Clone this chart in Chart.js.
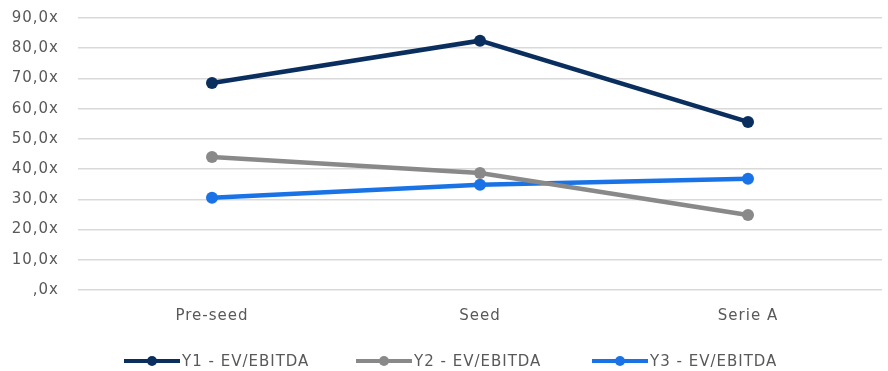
<!DOCTYPE html>
<html>
<head>
<meta charset="utf-8">
<script src="https://cdn.jsdelivr.net/npm/chart.js@4"></script>
<style>
  html, body { margin: 0; padding: 0; background: #fff; }
  #wrap { width: 888px; height: 371px; }
</style>
</head>
<body>
<div id="wrap"><canvas id="chart"></canvas></div>
<script>
  // ---- Data ------------------------------------------------
  const CATEGORIES = ['Pre-seed', 'Seed', 'Serie A'];
  const Y1_VALUES = [68.5, 82.5, 55.6];
  const Y2_VALUES = [44.0, 38.7, 24.8];
  const Y3_VALUES = [30.5, 34.8, 36.8];
  const SERIES_NAMES = ['Y1 - EV/EBITDA', 'Y2 - EV/EBITDA', 'Y3 - EV/EBITDA'];
  const Y_TICKS = [0, 10, 20, 30, 40, 50, 60, 70, 80, 90];

  const COLORS = ['#0a2f5e', '#898989', '#1a73e6'];
  const FONT = '"DejaVu Sans", "Open Sans", sans-serif';
  const TEXT = '#595959';

  function fmt(v) {
    const s = v.toFixed(1).replace('.', ',');
    return (v === 0 ? s.replace(/^0/, '') : s) + 'x';
  }

  // the original font is wide, so open the letters up a little
  const spacingPlugin = {
    id: 'spacing',
    beforeLayout(chart) { chart.ctx.letterSpacing = '1px'; },
    beforeDraw(chart) { chart.ctx.letterSpacing = '1px'; },
  };

  // legend drawn by hand: thick line with a dot in the middle, then text
  const legendPlugin = {
    id: 'lineLegend',
    afterDraw(chart) {
      const ctx = chart.ctx;
      const starts = [124, 356, 592];
      const y = 361;
      ctx.save();
      chart.data.datasets.forEach((ds, i) => {
        const x0 = starts[i];
        ctx.strokeStyle = ds.borderColor;
        ctx.lineWidth = 4;
        ctx.beginPath();
        ctx.moveTo(x0, y);
        ctx.lineTo(x0 + 56, y);
        ctx.stroke();
        ctx.fillStyle = ds.borderColor;
        ctx.beginPath();
        ctx.arc(x0 + 28, y, 5, 0, Math.PI * 2);
        ctx.fill();
        ctx.fillStyle = TEXT;
        ctx.font = '15px ' + FONT;
        ctx.textBaseline = 'middle';
        ctx.fillText(ds.label, x0 + 58, y + 1);
      });
      ctx.restore();
    },
  };

  function makeDataset(label, data, color) {
    return {
      label,
      data,
      borderColor: color,
      backgroundColor: color,
      borderWidth: 4.5,
      pointRadius: 6,
      pointHoverRadius: 6,
      pointBorderWidth: 0,
      tension: 0,
      fill: false,
    };
  }

  new Chart(document.getElementById('chart'), {
    type: 'line',
    data: {
      labels: CATEGORIES,
      datasets: [
        makeDataset(SERIES_NAMES[0], Y1_VALUES, COLORS[0]),
        makeDataset(SERIES_NAMES[1], Y2_VALUES, COLORS[1]),
        makeDataset(SERIES_NAMES[2], Y3_VALUES, COLORS[2]),
      ],
    },
    options: {
      responsive: true,
      maintainAspectRatio: false,
      animation: false,
      layout: { padding: { top: 0, right: 0, bottom: 38, left: 0 } },
      scales: {
        x: {
          offset: true,
          grid: { display: false },
          border: { display: false },
          afterFit: (axis) => {
            axis.height = 43;
            axis.paddingLeft = 0;
            axis.paddingRight = 0;
          },
          ticks: { color: TEXT, font: { family: FONT, size: 15 }, padding: 9 },
        },
        y: {
          min: 0,
          max: 90,
          afterBuildTicks: (axis) => { axis.ticks = Y_TICKS.map((v) => ({ value: v })); },
          afterFit: (axis) => {
            axis.width = 78;
            axis.paddingTop = 18;
            axis.paddingBottom = 0;
          },
          grid: { color: '#d9d9d9', lineWidth: 1.5, drawTicks: false },
          border: { display: false },
          ticks: {
            color: TEXT,
            font: { family: FONT, size: 15 },
            padding: 19,
            callback: (v) => fmt(v),
          },
        },
      },
      plugins: {
        legend: { display: false },
        tooltip: { enabled: false },
      },
    },
    plugins: [spacingPlugin, legendPlugin],
  });
</script>
</body>
</html>
